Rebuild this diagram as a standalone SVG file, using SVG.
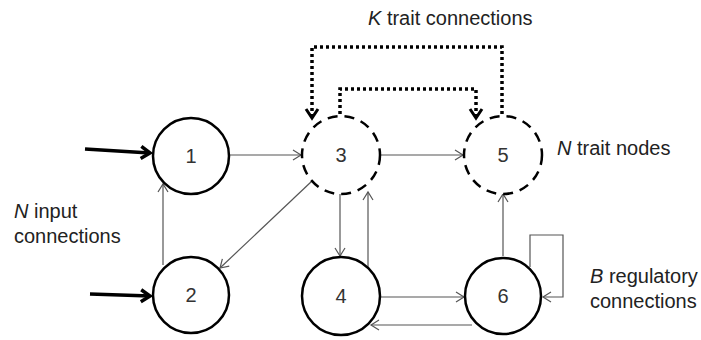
<svg xmlns="http://www.w3.org/2000/svg" width="701" height="340" viewBox="0 0 701 340">
<defs>
<style>
.node{fill:#fff;stroke:#000;stroke-width:2.5}
.trait{fill:#fff;stroke:#000;stroke-width:2.5;stroke-dasharray:10,7}
.num{font-family:"Liberation Sans",Arial,sans-serif;font-size:20px;fill:#333;text-anchor:middle}
.lbl{font-family:"Liberation Sans",Arial,sans-serif;font-size:20px;fill:#222}
.thin{fill:none;stroke:#555;stroke-width:1.2;marker-end:url(#thinArrow)}
.thick{fill:none;stroke:#000;stroke-width:3.5;marker-end:url(#thickArrow)}
.dot{fill:none;stroke:#000;stroke-width:3.5;stroke-dasharray:3,3}
</style>
<marker id="thinArrow" markerWidth="12" markerHeight="12" refX="10" refY="6" orient="auto" markerUnits="userSpaceOnUse">
<path d="M2,1 L10,6 L2,11" fill="none" stroke="#555" stroke-width="1.2"/>
</marker>
<marker id="thickArrow" markerWidth="16" markerHeight="16" refX="13" refY="8" orient="auto" markerUnits="userSpaceOnUse">
<path d="M4,2 L13,8 L4,14" fill="none" stroke="#000" stroke-width="3.5"/>
</marker>
<marker id="dotArrow" markerWidth="16" markerHeight="16" refX="13" refY="8" orient="auto" markerUnits="userSpaceOnUse">
<path d="M4,2 L13,8 L4,14" fill="none" stroke="#000" stroke-width="3"/>
</marker>
</defs>
<rect width="701" height="340" fill="#fff"/>
<g id="connectors">
<line class="thick" x1="85" y1="149" x2="150" y2="153"/>
<line class="thick" x1="90" y1="294" x2="150" y2="296"/>
<line class="thin" x1="230" y1="155" x2="301" y2="155"/>
<line class="thin" x1="163" y1="265" x2="163" y2="184"/>
<line class="thin" x1="312" y1="181" x2="220" y2="268"/>
<line class="thin" x1="340" y1="194" x2="340" y2="256"/>
<line class="thin" x1="368" y1="267" x2="368" y2="192"/>
<line class="thin" x1="381" y1="155" x2="463" y2="155"/>
<line class="thin" x1="503" y1="256" x2="503" y2="194"/>
<line class="thin" x1="380" y1="297" x2="464" y2="297"/>
<line class="thin" x1="472" y1="325" x2="371" y2="325"/>
<polyline class="thin" points="530,267 530,235 563,235 563,297 543,297"/>
<polyline class="dot" points="502,114 502,47 312,47 312,118" marker-end="url(#dotArrow)"/>
<polyline class="dot" points="340,114 340,89 476,89 476,118" marker-end="url(#dotArrow)"/>
</g>
<g id="node1"><circle class="node" cx="191" cy="156" r="38"/><text class="num" x="191" y="163">1</text></g>
<g id="node2"><circle class="node" cx="191" cy="295" r="38"/><text class="num" x="191" y="302">2</text></g>
<g id="node3"><circle class="trait" cx="341" cy="155" r="39"/><text class="num" x="341" y="162">3</text></g>
<g id="node5"><circle class="trait" cx="503" cy="155" r="39"/><text class="num" x="503" y="162">5</text></g>
<g id="node4"><circle class="node" cx="341" cy="296" r="39"/><text class="num" x="341" y="303">4</text></g>
<g id="node6"><circle class="node" cx="503" cy="296" r="38"/><text class="num" x="503" y="303">6</text></g>
<g id="labels">
<text class="lbl" x="368" y="25"><tspan font-style="italic">K</tspan> trait connections</text>
<text class="lbl" x="557" y="155"><tspan font-style="italic">N</tspan> trait nodes</text>
<text class="lbl" x="14" y="218"><tspan font-style="italic">N</tspan> input</text>
<text class="lbl" x="14" y="243">connections</text>
<text class="lbl" x="590" y="283"><tspan font-style="italic">B</tspan> regulatory</text>
<text class="lbl" x="590" y="308">connections</text>
</g>
</svg>
